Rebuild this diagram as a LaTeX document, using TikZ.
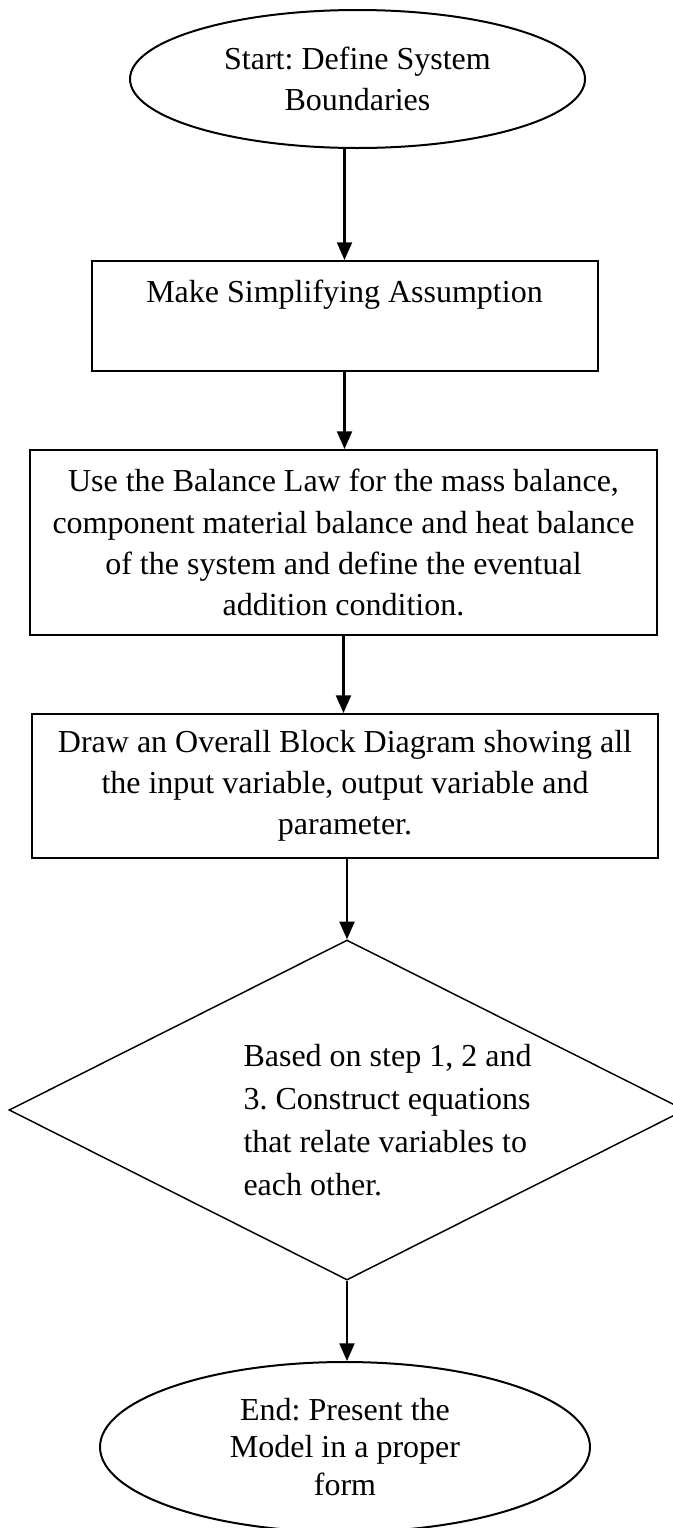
\documentclass[tikz,border=0pt]{standalone}
\usepackage{fontspec}
\setmainfont{Liberation Serif}
\frenchspacing
\usetikzlibrary{arrows.meta,shapes.geometric,positioning}

% one pixel of the page
\newcommand\px{0.375pt}

\tikzset{
  terminal/.style={ellipse,draw,line width=0.75pt,inner sep=0pt,align=center},
  process/.style={rectangle,draw,line width=0.75pt,inner sep=0pt,align=center},
  decision/.style={diamond,draw,line width=0.55pt,inner sep=0pt},
  flow/.style={line width=0.8pt,-{Triangle[width=5.6pt,length=6.6pt]}}
}

\begin{document}
\begin{tikzpicture}[x=\px,y=-\px,font=\fontsize{12}{15.4}\selectfont]
  \useasboundingbox (0,0) rectangle (673,1528);

  \node[terminal,minimum width=455*\px,minimum height=138*\px]
    (start) at (357.5,79) {Start: Define System\\Boundaries};
  \node[process,minimum width=506*\px,minimum height=110*\px,text depth=18.8pt]
    (box1) at (344.5,316) {Make Simplifying Assumption};
  \node[process,minimum width=627*\px,minimum height=185*\px]
    (box2) at (343.5,542.5) {Use the Balance Law for the mass balance,\\
      component material balance and heat balance\\
      of the system and define the eventual\\
      addition condition.};
  \node[process,minimum width=626*\px,minimum height=144*\px]
    (box3) at (345,786) {Draw an Overall Block Diagram showing all\\
      the input variable, output variable and\\
      parameter.};
  \node[decision,minimum width=676*\px,minimum height=340*\px]
    (check) at (347,1110) {};
  \node[align=left,anchor=north west,inner sep=0pt,font=\fontsize{12}{16.1}\selectfont]
    (checktext) at (243,1044) {Based on step 1, 2 and\\
      3. Construct equations\\
      that relate variables to\\
      each other.};
  \node[terminal,minimum width=490*\px,minimum height=170*\px,
    font=\fontsize{12}{13.9}\selectfont]
    (stop) at (345,1447) {End: Present the\\Model in a proper\\form};

  \draw[flow] (start.south -| box1.north) -- (box1.north);
  \draw[flow] (box1.south) -- (box1.south |- box2.north);
  \draw[flow] (box2.south) -- (box2.south |- box3.north);
  \draw[flow] (box3.south -| check.north) -- (check.north);
  \draw[flow] (check.south) -- (check.south |- stop.north);
\end{tikzpicture}
\end{document}
